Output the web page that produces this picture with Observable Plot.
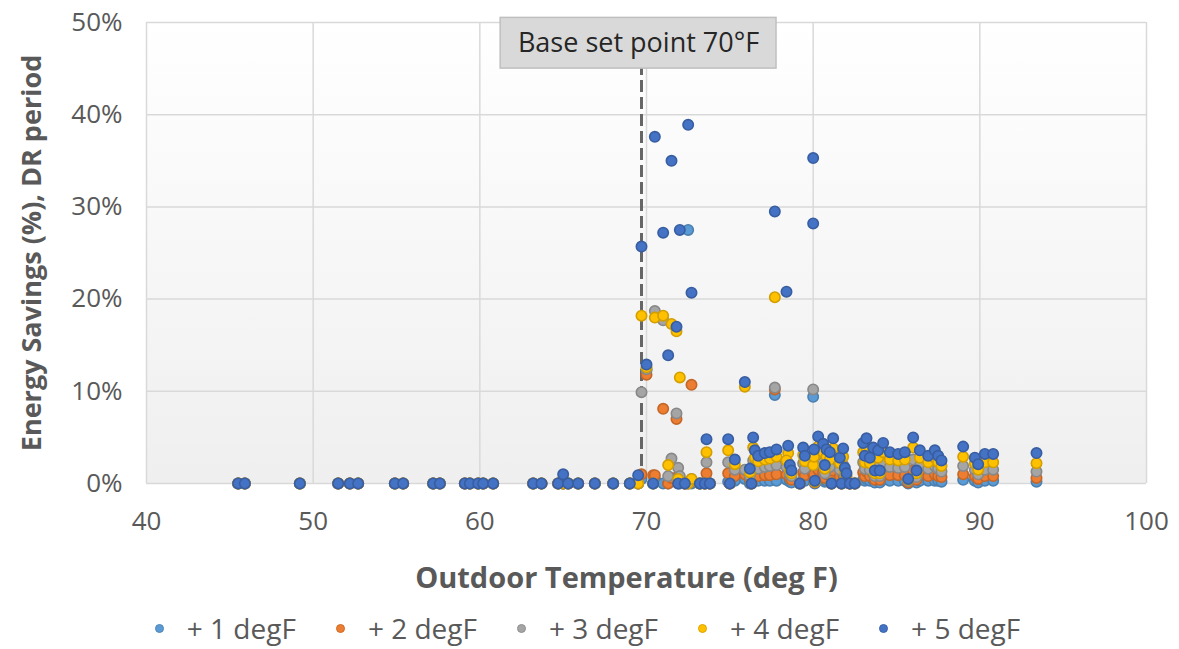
<!DOCTYPE html>
<html><head><meta charset="utf-8">
<script src="https://cdn.jsdelivr.net/npm/d3@7"></script>
<script src="https://cdn.jsdelivr.net/npm/@observablehq/plot@0.6"></script>
<style>
html,body{margin:0;padding:0;background:#fff;}
body{width:1179px;height:649px;overflow:hidden;font-family:"Open Sans",sans-serif;}
#legend{display:flex;justify-content:center;align-items:center;height:32px;line-height:32px;margin-top:12px;padding-right:4px;color:#595959;font-size:28px;}
.item{display:flex;align-items:center;margin:0 20px;}
.sw{width:9px;height:9px;border-radius:50%;margin-right:23px;box-sizing:border-box;border:1.5px solid;}
</style></head><body>
<div id="chart"></div><div id="legend"></div>
<script>
// Outdoor temperature (deg F) for each observation
const temps = [
  45.5, 45.9, 49.2, 51.5, 52.2, 52.7, 54.9, 55.4, 57.2, 57.6,
  59.1, 59.4, 59.9, 60.2, 60.8, 63.2, 63.7, 64.7, 65.0, 65.3,
  65.9, 66.9, 68.0, 69.0, 69.5, 69.7, 70.0, 70.4, 70.5, 71.0,
  71.3, 71.5, 71.8, 71.9, 72.0, 72.3, 72.5, 72.7, 73.2, 73.5,
  73.6, 73.8, 74.9, 75.0, 75.3, 75.9, 76.2, 76.3, 76.4, 76.5,
  76.7, 77.1, 77.4, 77.7, 77.8, 78.5, 78.4, 78.6, 78.7, 79.2,
  79.4, 79.5, 80.0, 80.0, 80.05, 80.1, 80.3, 80.6, 80.7, 80.8,
  81.0, 81.1, 81.2, 81.6, 81.7, 81.8, 81.9, 82.0, 82.2, 82.5,
  83.0, 83.1, 83.2, 83.4, 83.6, 83.7, 83.9, 84.0, 84.2, 84.6,
  85.1, 85.5, 85.7, 86.0, 86.2, 86.4, 86.9, 87.3, 87.5, 87.7,
  89.0, 89.7, 89.9, 90.3, 90.8, 93.4
];
// Energy savings (%) per set-point increase
const plus1 = [
  0,0,0,0,0,0,0,0,0,0,
  0,0,0,0,0,0,0,0,0,0,
  0,0,0,0,0,0.5,12.3,0,0.5,0,
  0,0.4,0.3,0,0,0,27.5,0,0,0,
  0.3,0,0.2,0,0.3,0.5,0,0,0.5,0.3,
  0.3,0.3,0.3,9.6,0.3,0.5,0.4,0.2,0.1,0,
  0.4,0.3,9.4,0.5,0.3,0,0.5,0.4,0.2,0.3,
  0.3,0,0.5,0.3,0,0.4,0.2,0.1,0,0,
  0.4,0.3,0.5,0.3,0.4,0.1,0.3,0.1,0.4,0.3,
  0.3,0.3,0,0.5,0.1,0.3,0.3,0.3,0.3,0.2,
  0.4,0.3,0.1,0.3,0.3,0.2
];
const plus2 = [
  0,0,0,0,0,0,0,0,0,0,
  0,0,0,0,0,0,0,0,0,0,
  0,0,0,0,0,1.0,11.8,0.9,0.9,8.1,
  0,0.6,7.0,0.8,0.5,0,0,10.7,0,0,
  1.1,0,1.1,0,0.8,1.0,0.5,0,1.5,1.0,
  0.8,0.9,0.9,10.2,1.0,1.2,1.0,0.6,0.4,0,
  1.2,0.9,1.0,1.2,1.0,0.1,1.5,1.2,0.6,1.0,
  0.9,0,1.4,0.8,0,1.0,0.5,0.3,0,0,
  1.2,0.8,1.3,0.8,1.1,0.4,1.0,0.4,1.2,0.9,
  0.9,0.9,0.1,1.4,0.4,1.0,0.8,1.0,0.8,0.7,
  1.0,0.8,0.5,0.8,0.8,0.6
];
const plus3 = [
  0,0,0,0,0,0,0,0,0,0,
  0,0,0,0,0,0,0,0,0,0,
  0,0,0,0,0,9.9,12.4,0,18.7,17.7,
  0.8,2.7,7.6,1.7,0.8,0,0,0.5,0,0,
  2.3,0,2.3,0,1.5,1.5,0.8,0,2.5,2.0,
  1.6,1.8,1.9,10.4,2.0,2.2,1.8,1.0,0.8,0,
  2.2,1.6,10.2,2.5,2.0,0.2,2.8,2.3,1.1,2.0,
  1.8,0,2.7,1.5,0,2.0,0.9,0.6,0,0,
  2.3,1.6,2.6,1.5,2.1,0.8,1.9,0.8,2.3,1.8,
  1.7,1.8,0.3,2.6,0.7,1.9,1.6,1.9,1.6,1.3,
  1.9,1.5,1.0,1.5,1.5,1.3
];
const plus4 = [
  0,0,0,0,0,0,0,0,0,0,
  0,0,0,0,0,0,0,0,0,0,
  0,0,0,0,0,18.2,12.6,0,18.0,18.2,
  2.0,17.3,16.5,0.5,11.5,0,0,0.5,0,0,
  3.4,0,3.6,0,2.1,10.5,1.2,0,3.9,2.8,
  2.4,2.6,2.7,20.2,2.9,3.3,2.5,1.5,1.1,0,
  3.1,2.4,2.0,3.0,2.9,0.2,4.0,3.4,1.6,2.9,
  2.6,0,3.8,2.2,0,2.9,1.3,0.8,0,0,
  3.4,2.3,3.8,2.2,3.0,1.1,2.8,1.1,3.4,2.6,
  2.5,2.6,0.4,3.9,1.1,2.8,2.3,2.8,2.3,1.9,
  2.9,2.2,1.5,2.3,2.3,2.2
];
const plus5 = [
  0,0,0,0,0,0,0,0,0,0,
  0,0,0,0,0,0,0,0,1.0,0,
  0,0,0,0,0.9,25.7,12.9,0,37.6,27.2,
  13.9,35.0,17.0,0,27.5,0,38.9,20.7,0,0,
  4.8,0,4.8,0,2.6,11.0,1.6,0,5.0,3.6,
  3.0,3.3,3.4,29.5,3.7,4.1,20.8,2.0,1.4,0,
  3.9,3.0,28.2,35.3,3.7,0.3,5.1,4.3,2.0,3.7,
  3.4,0,4.9,2.8,0,3.8,1.7,1.1,0,0,
  4.4,3.0,4.9,2.8,3.9,1.4,3.6,1.4,4.4,3.4,
  3.2,3.4,0.5,5.0,1.4,3.6,3.0,3.6,3.0,2.5,
  4.0,2.8,2.1,3.2,3.2,3.3
];

const seriesNames = ["+ 1 degF", "+ 2 degF", "+ 3 degF", "+ 4 degF", "+ 5 degF"];
const seriesColors = ["#5B9BD5", "#ED7D31", "#A5A5A5", "#FFC000", "#4472C4"];
const seriesValues = [plus1, plus2, plus3, plus4, plus5];
const xTicks = [40, 50, 60, 70, 80, 90, 100];
const yTicks = [0, 10, 20, 30, 40, 50];
const xTitle = "Outdoor Temperature (deg F)";
const yTitle = "Energy Savings (%), DR period";
const setPointTemp = 69.7;
const setPointLabel = "Base set point 70°F";
const labelBox = {x1: 61.25, x2: 77.8, y1: 45.0, y2: 50.5};

const dotMarks = seriesValues.map((vals, i) => {
  const rows = temps.map((t, j) => ({t, v: vals[j]}));
  return Plot.dot(rows, {x: "t", y: "v", r: 5.2, fill: seriesColors[i],
    stroke: d3.color(seriesColors[i]).darker(0.55).formatHex(), strokeWidth: 1.6});
});

const plot = Plot.plot({
  width: 1179, height: 600,
  marginTop: 22, marginLeft: 146, marginRight: 33, marginBottom: 117,
  style: {fontFamily: "'Open Sans', sans-serif", fontSize: "26px", color: "#595959", background: "transparent", overflow: "visible"},
  x: {domain: [40, 100]},
  y: {domain: [0, 50]},
  marks: [
    Plot.frame({fill: "url(#bgGrad)", stroke: null}),
    Plot.gridX(xTicks, {stroke: "#d9d9d9", strokeOpacity: 1, strokeWidth: 1.5}),
    Plot.gridY(yTicks, {stroke: "#d9d9d9", strokeOpacity: 1, strokeWidth: 1.5}),
    Plot.axisX(xTicks, {tickSize: 0, tickPadding: 28, label: null, fill: "#595959", fontSize: 26}),
    Plot.axisY(yTicks, {tickSize: 0, tickPadding: 24, label: null, tickFormat: d => d + "%", fill: "#595959", fontSize: 26}),
    Plot.text([xTitle], {frameAnchor: "bottom", dx: -20, dy: 95, lineAnchor: "middle", textAnchor: "middle", fontWeight: "bold", fontSize: 29, fill: "#595959"}),
    Plot.text([yTitle], {frameAnchor: "left", dx: -114, rotate: -90, lineAnchor: "middle", textAnchor: "middle", fontWeight: "bold", fontSize: 27, fill: "#595959"}),
    Plot.ruleX([setPointTemp], {y1: 0, y2: labelBox.y1, stroke: "#666666", strokeWidth: 3, strokeDasharray: "12,5"}),
    ...dotMarks,
    Plot.rect([labelBox], {x1: "x1", x2: "x2", y1: "y1", y2: "y2", fill: "#d9d9d9", stroke: "#bfbfbf", strokeWidth: 1.5}),
    Plot.text([setPointLabel], {x: (labelBox.x1 + labelBox.x2) / 2, y: (labelBox.y1 + labelBox.y2) / 2, fontSize: 27, fill: "#262626", lineAnchor: "middle"})
  ]
});

const svg = d3.select(plot);
const defs = svg.insert("defs", ":first-child");
const grad = defs.append("linearGradient").attr("id", "bgGrad").attr("x1", 0).attr("y1", 0).attr("x2", 0).attr("y2", 1);
grad.append("stop").attr("offset", "0%").attr("stop-color", "#ffffff");
grad.append("stop").attr("offset", "100%").attr("stop-color", "#efefef");
document.getElementById("chart").appendChild(plot);

const legend = d3.select("#legend");
seriesNames.forEach((name, i) => {
  const it = legend.append("div").attr("class", "item");
  it.append("div").attr("class", "sw").style("background", seriesColors[i])
    .style("border-color", d3.color(seriesColors[i]).darker(0.4).formatHex());
  it.append("span").text(name);
});
</script>
</body></html>
